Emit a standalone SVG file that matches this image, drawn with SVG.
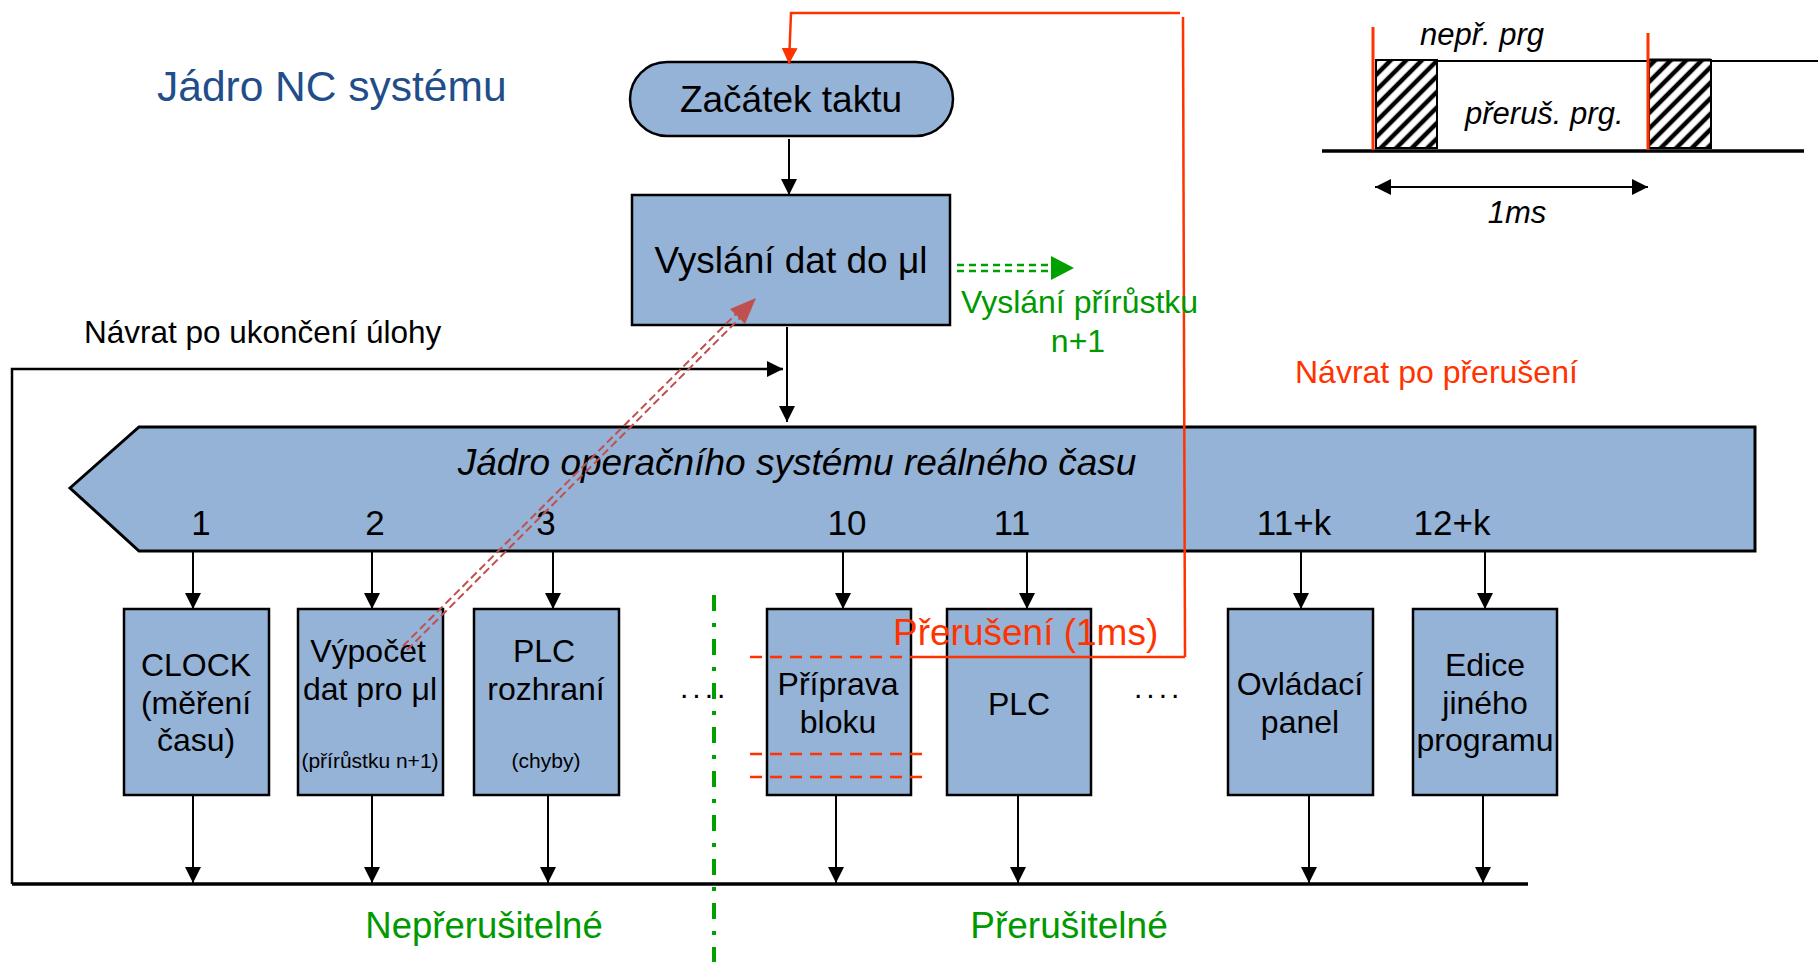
<svg xmlns="http://www.w3.org/2000/svg" width="1818" height="974" viewBox="0 0 1818 974">
  <style>
    text { font-family: "Liberation Sans", Arial, sans-serif; fill: #000; }
    .box { fill: #95B3D7; stroke: #000; stroke-width: 2.5; }
    .t32 { font-size: 32px; text-anchor: middle; }
    .t37 { font-size: 37px; text-anchor: middle; }
    .small { font-size: 21px; text-anchor: middle; }
    .num { font-size: 35px; text-anchor: middle; }
    .wire { fill: none; stroke: #000; stroke-width: 2; }
    .red { fill: none; stroke: #FF3300; stroke-width: 2.5; }
    .reddash { fill: none; stroke: #FF3300; stroke-width: 2.5; stroke-dasharray: 12 8; }
    .redtxt { fill: #FF3300; }
    .greentxt { fill: #009900; }
    .ital { font-style: italic; }
  </style>
  <defs>
    <marker id="ah" markerUnits="userSpaceOnUse" markerWidth="16" markerHeight="16" refX="16" refY="8" orient="auto-start-reverse">
      <path d="M0,0 L16,8 L0,16 z" fill="#000"/>
    </marker>
    <marker id="ahRed" markerUnits="userSpaceOnUse" markerWidth="16" markerHeight="16" refX="16" refY="8" orient="auto">
      <path d="M0,0 L16,8 L0,16 z" fill="#FF3300"/>
    </marker>
    <pattern id="hatch" patternUnits="userSpaceOnUse" width="11" height="11" patternTransform="rotate(45)">
      <rect width="11" height="11" fill="#fff"/>
      <line x1="3" y1="0" x2="3" y2="11" stroke="#000" stroke-width="4.5"/>
    </pattern>
  </defs>

  <rect width="1818" height="974" fill="#fff"/>

  <!-- title -->
  <text x="157" y="101" style="font-size:42.5px; fill:#1F4E8A">Jádro NC systému</text>

  <!-- timing chart: 1 ms cycle -->
  <g id="timing">
    <line x1="1322" y1="151" x2="1804" y2="151" stroke="#000" stroke-width="3.5"/>
    <line x1="1437" y1="61" x2="1818" y2="61" stroke="#000" stroke-width="2"/>
    <rect x="1376" y="60" width="61" height="88" fill="url(#hatch)" stroke="#000" stroke-width="2"/>
    <rect x="1649" y="60" width="62" height="88" fill="url(#hatch)" stroke="#000" stroke-width="2"/>
    <line x1="1648" y1="60" x2="1711" y2="60" stroke="#000" stroke-width="3"/>
    <line x1="1373" y1="27" x2="1373" y2="150" stroke="#FF3300" stroke-width="3"/>
    <line x1="1648" y1="33" x2="1648" y2="150" stroke="#FF3300" stroke-width="3"/>
    <line x1="1375" y1="187" x2="1648" y2="187" stroke="#000" stroke-width="2" marker-start="url(#ah)" marker-end="url(#ah)"/>
    <text x="1420" y="45" class="ital" style="font-size:31px">nepř. prg</text>
    <text x="1465" y="124" class="ital" style="font-size:31px">přeruš. prg.</text>
    <text x="1517" y="223" class="ital" style="font-size:31px; text-anchor:middle">1ms</text>
  </g>

  <g id="start">
    <rect x="630" y="62" width="323" height="74" rx="37" ry="37" class="box"/>
    <text x="791" y="112" class="t37">Začátek taktu</text>
  </g>

  <g id="send-data">
    <rect x="632" y="195" width="318" height="130" class="box"/>
    <text x="791" y="273" class="t37">Vyslání dat do μl</text>
  </g>

  <g id="kernel">
    <polygon points="70,488 139,427 1755,427 1755,551 139,551" class="box" style="stroke-width:3"/>
    <text x="797" y="475" class="t37 ital">Jádro operačního systému reálného času</text>
    <text x="201" y="535" class="num">1</text>
    <text x="375" y="535" class="num">2</text>
    <text x="546" y="535" class="num">3</text>
    <text x="847" y="535" class="num">10</text>
    <text x="1012" y="535" class="num">11</text>
    <text x="1294" y="535" class="num">11+k</text>
    <text x="1452" y="535" class="num">12+k</text>
  </g>

  <g id="task-clock">
    <rect x="124" y="609" width="145" height="186" class="box"/>
    <text x="196" y="676" class="t32">CLOCK</text>
    <text x="196" y="714" class="t32">(měření</text>
    <text x="196" y="751" class="t32">času)</text>
  </g>

  <g id="task-compute">
    <rect x="298" y="609" width="145" height="186" class="box"/>
    <text x="368" y="662" class="t32">Výpočet</text>
    <text x="370" y="700" class="t32">dat pro μl</text>
    <text x="370" y="768" class="small">(přírůstku n+1)</text>
  </g>

  <g id="task-plc-if">
    <rect x="474" y="609" width="145" height="186" class="box"/>
    <text x="544" y="662" class="t32">PLC</text>
    <text x="546" y="700" class="t32">rozhraní</text>
    <text x="546" y="768" class="small">(chyby)</text>
  </g>

  <g id="task-block">
    <rect x="767" y="609" width="144" height="186" class="box"/>
    <text x="838" y="695" class="t32">Příprava</text>
    <text x="838" y="733" class="t32">bloku</text>
  </g>

  <g id="task-plc">
    <rect x="947" y="609" width="144" height="186" class="box"/>
    <text x="1019" y="715" class="t32">PLC</text>
  </g>

  <g id="task-panel">
    <rect x="1228" y="609" width="145" height="186" class="box"/>
    <text x="1300" y="695" class="t32">Ovládací</text>
    <text x="1300" y="733" class="t32">panel</text>
  </g>

  <g id="task-edit">
    <rect x="1413" y="609" width="144" height="186" class="box"/>
    <text x="1485" y="676" class="t32">Edice</text>
    <text x="1485" y="714" class="t32">jiného</text>
    <text x="1485" y="751" class="t32">programu</text>
  </g>

  <!-- connectors, drawn over the blocks -->
  <g id="connectors">
    <!-- flow from start through data send to the kernel -->
    <line x1="789" y1="139" x2="789" y2="195" class="wire" marker-end="url(#ah)"/>
    <line x1="787" y1="327" x2="787" y2="422" class="wire" marker-end="url(#ah)"/>
    <!-- return after task completion -->
    <polyline points="12,884 12,369 783,369" class="wire" style="stroke-width:2.5" marker-end="url(#ah)"/>
    <line x1="12" y1="884" x2="1528" y2="884" stroke="#000" stroke-width="3.5"/>
    <!-- kernel to tasks -->
    <line x1="193" y1="551" x2="193" y2="609" class="wire" marker-end="url(#ah)"/>
    <line x1="372" y1="551" x2="372" y2="609" class="wire" marker-end="url(#ah)"/>
    <line x1="553" y1="551" x2="553" y2="609" class="wire" marker-end="url(#ah)"/>
    <line x1="843" y1="551" x2="843" y2="609" class="wire" marker-end="url(#ah)"/>
    <line x1="1027" y1="551" x2="1027" y2="609" class="wire" marker-end="url(#ah)"/>
    <line x1="1301" y1="551" x2="1301" y2="609" class="wire" marker-end="url(#ah)"/>
    <line x1="1485" y1="551" x2="1485" y2="609" class="wire" marker-end="url(#ah)"/>
    <!-- tasks back to the return bus -->
    <line x1="193" y1="796" x2="193" y2="883" class="wire" marker-end="url(#ah)"/>
    <line x1="372" y1="796" x2="372" y2="883" class="wire" marker-end="url(#ah)"/>
    <line x1="548" y1="796" x2="548" y2="883" class="wire" marker-end="url(#ah)"/>
    <line x1="836" y1="796" x2="836" y2="883" class="wire" marker-end="url(#ah)"/>
    <line x1="1018" y1="796" x2="1018" y2="883" class="wire" marker-end="url(#ah)"/>
    <line x1="1309" y1="796" x2="1309" y2="883" class="wire" marker-end="url(#ah)"/>
    <line x1="1483" y1="796" x2="1483" y2="883" class="wire" marker-end="url(#ah)"/>
    <!-- separator between non-interruptible and interruptible tasks -->
    <line x1="714" y1="595" x2="714" y2="962" stroke="#00A000" stroke-width="4" stroke-dasharray="16 12 4 12"/>
    <!-- data send arrow (double dashed, green) -->
    <line x1="957" y1="265" x2="1051" y2="265" stroke="#00A000" stroke-width="2.5" stroke-dasharray="7 5"/>
    <line x1="957" y1="271" x2="1051" y2="271" stroke="#00A000" stroke-width="2.5" stroke-dasharray="7 5"/>
    <polygon points="1051,256 1074,268 1051,280" fill="#00A000"/>
    <!-- computed increment handed to the data send block (double dashed) -->
    <line x1="407" y1="650" x2="740" y2="318" stroke="#C0504D" stroke-width="2" stroke-dasharray="8 4"/>
    <line x1="403" y1="646" x2="736" y2="314" stroke="#C0504D" stroke-width="2" stroke-dasharray="8 4"/>
    <polygon points="756,298 745,324 730,309" fill="#C0504D"/>
    <!-- interrupt loop back to the cycle start -->
    <polyline points="1185,657 1183,17" class="red"/>
    <polyline points="1180,13 791,13 789,64" class="red" marker-end="url(#ahRed)"/>
    <line x1="910" y1="657" x2="1185" y2="657" class="red"/>
    <line x1="750" y1="657" x2="910" y2="657" class="reddash"/>
    <line x1="750" y1="754" x2="922" y2="754" class="reddash"/>
    <line x1="750" y1="777" x2="922" y2="777" class="reddash"/>
  </g>

  <!-- labels -->
  <text x="84" y="343" style="font-size:31.5px">Návrat po ukončení úlohy</text>
  <text x="961" y="313" class="greentxt" style="font-size:32px">Vyslání přírůstku</text>
  <text x="1078" y="352" class="greentxt" style="font-size:32px; text-anchor:middle">n+1</text>
  <text x="1295" y="383" class="redtxt" style="font-size:32px">Návrat po přerušení</text>
  <text x="893" y="645" class="redtxt" style="font-size:37px">Přerušení (1ms)</text>
  <text x="680" y="698" style="font-size:30px; letter-spacing:4px">....</text>
  <text x="1134" y="698" style="font-size:30px; letter-spacing:4px">....</text>
  <text x="484" y="938" class="greentxt t37" style="font-size:36.5px">Nepřerušitelné</text>
  <text x="1069" y="938" class="greentxt t37">Přerušitelné</text>
</svg>
